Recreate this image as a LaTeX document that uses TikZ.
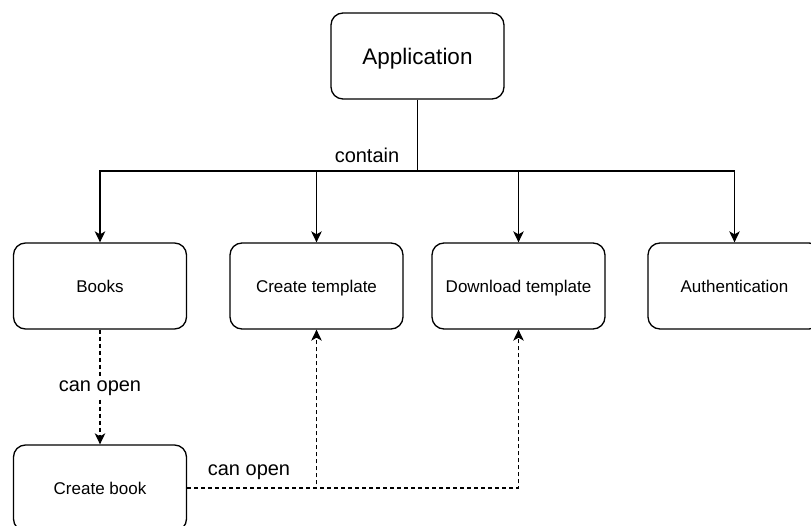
\documentclass[tikz,border=0pt]{standalone}
\usepackage{fontspec}
\setmainfont{Liberation Sans}
\usetikzlibrary{arrows.meta}
\begin{document}
\begin{tikzpicture}[x=1pt,y=-1pt,
  box/.style={draw, line width=1.3pt, rounded corners=12pt,
    minimum width=173pt, minimum height=86pt, inner sep=0pt,
    text height=12.3pt, text depth=0pt,
    font=\fontsize{17}{20}\selectfont},
  bigbox/.style={box, text height=16.3pt, text depth=0pt,
    font=\fontsize{22.5}{26}\selectfont},
  link/.style={line width=1.3pt, -{Stealth[length=11pt,width=10.5pt,inset=3pt]}},
  opens/.style={link, dash pattern=on 4pt off 3pt},
  note/.style={inner sep=0pt, font=\fontsize{20}{24}\selectfont}]
  \path[use as bounding box, clip] (0,0) rectangle (811,526);

  % top level
  \node[bigbox] (app) at (417.5,56) {Application};

  % second row
  \node[box] (books)    at (100,286)   {Books};
  \node[box] (tmpl)     at (316.5,286) {Create template};
  \node[box] (dl)       at (518.5,286) {Download template};
  \node[box] (auth)     at (734.5,286) {Authentication};

  % bottom row
  \node[box] (newbook)  at (100,488) {Create book};

  % "contain" bus
  \coordinate (bus) at (417.5,171);
  \draw[line width=1.3pt] (app.south) -- (bus);
  \draw[link] (bus) -| (books.north);
  \draw[link] (bus) -| (tmpl.north);
  \draw[link] (bus) -| (dl.north);
  \draw[link] (bus) -| (auth.north);
  \node[note] (containlbl) at (367,155) {contain};

  % "can open" relations
  \draw[opens] (books.south) -- (newbook.north);
  \node[note, fill=white, inner sep=2pt] (openlbl1) at (100,388) {can open};
  \coordinate (out) at (newbook.east);
  \draw[opens] (out) -| (tmpl.south);
  \draw[opens] (out) -| (dl.south);
  \node[note] (openlbl2) at (249,472) {can open};
\end{tikzpicture}
\end{document}
